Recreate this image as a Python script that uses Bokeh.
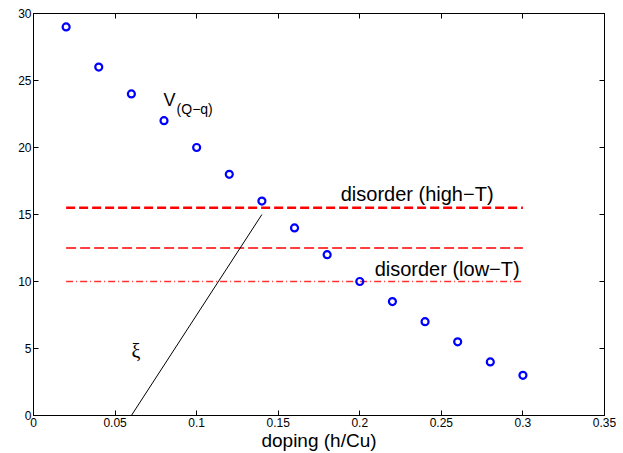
from bokeh.plotting import figure
from bokeh.models import LinearAxis, FixedTicker, Range1d, ColumnDataSource
from bokeh.core.properties import value
from bokeh.embed import file_html
from bokeh.resources import INLINE

# ---- data ----
doping = [0.02, 0.04, 0.06, 0.08, 0.10, 0.12, 0.14, 0.16, 0.18, 0.20, 0.22, 0.24, 0.26, 0.28, 0.30]
V_Qq = [29, 26, 24, 22, 20, 18, 16, 14, 12, 10, 8.5, 7, 5.5, 4, 3]

disorder_x = [0.02, 0.30]
disorder_high = [15.5, 15.5]
disorder_mid = [12.5, 12.5]
disorder_low = [10, 10]

xi_x = [0.06, 0.14]
xi_y = [0, 15]

x_ticks = [0, 0.05, 0.1, 0.15, 0.2, 0.25, 0.3, 0.35]
x_tick_labels = ["0", "0.05", "0.1", "0.15", "0.2", "0.25", "0.3", "0.35"]
y_ticks = [0, 5, 10, 15, 20, 25, 30]
y_tick_labels = ["0", "5", "10", "15", "20", "25", "30"]

FONT = "Liberation Sans"

p = figure(width=623, height=453, output_backend="svg", toolbar_location=None,
           x_range=Range1d(0, 0.35), y_range=Range1d(0, 30),
           min_border_left=33, min_border_right=19, min_border_top=13, min_border_bottom=37)
p.grid.visible = False
p.outline_line_color = "black"
p.outline_line_width = 1
p.background_fill_color = "white"
p.border_fill_color = "white"

def style_axis(ax, ticks, labels, show_labels=True):
    ax.ticker = FixedTicker(ticks=ticks)
    ax.major_tick_in = 5
    ax.major_tick_out = 0
    ax.minor_tick_in = 0
    ax.minor_tick_out = 0
    ax.axis_line_color = "black"
    ax.major_tick_line_color = "black"
    ax.major_label_text_font = FONT
    ax.major_label_text_color = "black"
    ax.major_label_text_font_size = "12px"
    if show_labels:
        ax.major_label_overrides = {t: l for t, l in zip(ticks, labels)}
        ax.major_label_standoff = 2
    else:
        ax.major_label_overrides = {t: "" for t in ticks}
        ax.major_label_standoff = 0

style_axis(p.xaxis[0], x_ticks, x_tick_labels)
style_axis(p.yaxis[0], y_ticks, y_tick_labels)
p.xaxis[0].axis_label = "doping (h/Cu)"
p.xaxis[0].axis_label_text_font = FONT
p.xaxis[0].axis_label_text_font_size = "19px"
p.xaxis[0].axis_label_text_font_style = "normal"
p.xaxis[0].axis_label_text_color = "black"
p.xaxis[0].axis_label_standoff = 0

top = LinearAxis()
style_axis(top, x_ticks, x_tick_labels, show_labels=False)
p.add_layout(top, "above")
right = LinearAxis()
style_axis(right, y_ticks, y_tick_labels, show_labels=False)
p.add_layout(right, "right")

# disorder lines
p.line(disorder_x, disorder_high, line_color="red", line_width=2.5, line_dash="9 4")
p.line(disorder_x, disorder_mid, line_color="#ff0000", line_width=1.5, line_dash="10 4")
p.line(disorder_x, disorder_low, line_color="#ff3030", line_width=1.5, line_dash="7 3 1 3")

# xi line
p.line(xi_x, xi_y, line_color="black", line_width=1)

# data points
p.scatter(doping, V_Qq, marker="circle", size=7, fill_color=None,
          line_color="blue", line_width=2.2)

# annotations
labels = ColumnDataSource(dict(
    x=[0.0797, 0.1883, 0.2091],
    y=[23.55, 16.5, 10.92],
    text=["V", "disorder (high\u2212T)", "disorder (low\u2212T)"],
    size=["18px", "20px", "20px"],
))
p.text(x="x", y="y", text="text", source=labels, text_font=value(FONT),
       text_font_size="size", text_baseline="alphabetic", text_align="left",
       text_color="black")
p.text(x=[0.0877], y=[22.85], text=["(Q\u2212q)"], text_font=value(FONT),
       text_font_size="14px", text_baseline="alphabetic", text_align="left",
       text_color="black")
p.text(x=[0.0601], y=[4.8], text=["\u03be"], text_font=value("Liberation Serif"),
       text_font_size="20px", text_baseline="middle", text_align="left",
       text_color="black")

open("out.html", "w").write(file_html(p, INLINE))
